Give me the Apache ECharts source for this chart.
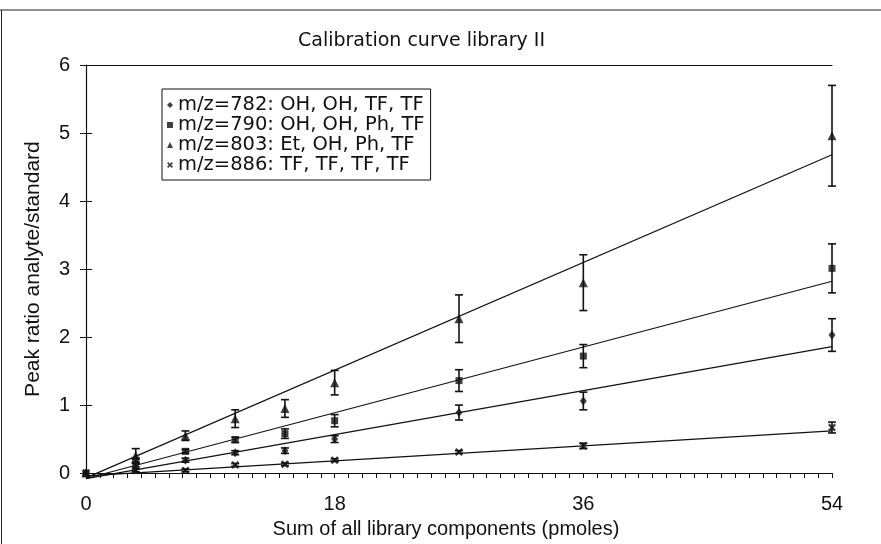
<!DOCTYPE html>
<html>
<head>
<meta charset="utf-8">
<script src="https://cdn.jsdelivr.net/npm/echarts@6/dist/echarts.min.js"></script>
<style>html,body{margin:0;padding:0;background:#fff}#c{width:881px;height:544px}</style>
</head>
<body>
<div id="c"></div>
<script>
const xValues = [0, 3.6, 7.2, 10.8, 14.4, 18, 27, 36, 54];
const mz782 = [0, 0.12, 0.19, 0.30, 0.33, 0.50, 0.89, 1.06, 2.03];
const mz782Err = [0, 0.03, 0.03, 0.03, 0.04, 0.05, 0.11, 0.13, 0.24];
const mz790 = [0, 0.18, 0.32, 0.49, 0.58, 0.77, 1.36, 1.72, 3.01];
const mz790Err = [0, 0.04, 0.03, 0.04, 0.07, 0.09, 0.16, 0.17, 0.36];
const mz803 = [0, 0.26, 0.55, 0.80, 0.95, 1.33, 2.27, 2.80, 4.96];
const mz803Err = [0, 0.10, 0.07, 0.13, 0.13, 0.18, 0.35, 0.41, 0.74];
const mz886 = [0, 0.04, 0.04, 0.12, 0.13, 0.19, 0.31, 0.40, 0.67];
const mz886Err = [0, 0.02, 0.02, 0.02, 0.02, 0.02, 0.02, 0.04, 0.08];
const fitX = [0, 54];
const fit782 = [-0.08, 1.86];
const fit790 = [-0.08, 2.82];
const fit803 = [-0.07, 4.68];
const fit886 = [-0.04, 0.62];
const names = ['m/z=782: OH, OH, TF, TF', 'm/z=790: OH, OH, Ph, TF', 'm/z=803: Et, OH, Ph, TF', 'm/z=886: TF, TF, TF, TF'];
const xTicks = [0, 18, 36, 54];
const yTicks = [0, 1, 2, 3, 4, 5, 6];

const FONT = '"Liberation Sans", Arial, Helvetica, sans-serif';
const WIDE = '"DejaVu Sans", Verdana, sans-serif';
const crossPath = 'path://M0,2 L2,0 L5,3 L8,0 L10,2 L7,5 L10,8 L8,10 L5,7 L2,10 L0,8 L3,5 Z';
const symbols = ['diamond', 'rect', 'triangle', crossPath];
const sizes = [[7, 9], 7, 9, 8];
const vals = [mz782, mz790, mz803, mz886];
const errs = [mz782Err, mz790Err, mz803Err, mz886Err];
const fits = [fit782, fit790, fit803, fit886];

const series = [];
vals.forEach((v, k) => {
  series.push({
    type: 'line', data: fitX.map((x, i) => [x, fits[k][i]]), showSymbol: false, clip: false,
    lineStyle: {color: '#111', width: 1.2}, silent: true, z: 2, legendHoverLink: false
  });
  series.push({
    type: 'custom', clip: false, z: 3,
    data: xValues.map((x, i) => [x, v[i] - errs[k][i], v[i] + errs[k][i]]).filter((d, i) => errs[k][i] > 0),
    renderItem: function (params, api) {
      const lo = api.coord([api.value(0), api.value(1)]);
      const hi = api.coord([api.value(0), api.value(2)]);
      const w = 4;
      const st = {stroke: '#111', lineWidth: 1.6};
      return {type: 'group', children: [
        {type: 'line', shape: {x1: lo[0], y1: lo[1], x2: hi[0], y2: hi[1]}, style: st},
        {type: 'line', shape: {x1: lo[0] - w, y1: lo[1], x2: lo[0] + w, y2: lo[1]}, style: st},
        {type: 'line', shape: {x1: hi[0] - w, y1: hi[1], x2: hi[0] + w, y2: hi[1]}, style: st}
      ]};
    }
  });
  series.push({
    name: names[k], type: 'scatter', symbol: symbols[k], symbolSize: sizes[k], z: 4, clip: false,
    itemStyle: {color: '#111'},
    data: xValues.map((x, i) => [x, v[i]])
  });
});

const chart = echarts.init(document.getElementById('c'), null, {renderer: 'canvas'});
chart.setOption({
  animation: false,
  backgroundColor: '#fff',
  textStyle: {fontFamily: FONT, color: '#111'},
  title: {
    text: 'Calibration curve library II', left: 298, top: 32, padding: 0,
    textStyle: {fontFamily: WIDE, fontSize: 19, fontWeight: 'normal', color: '#111'}
  },
  graphic: [
    {type: 'line', shape: {x1: 0, y1: 10, x2: 881, y2: 10}, style: {stroke: '#222', lineWidth: 1}},
    {type: 'line', shape: {x1: 1.5, y1: 10, x2: 1.5, y2: 544}, style: {stroke: '#222', lineWidth: 1}}
  ],
  legend: {
    data: names, orient: 'vertical', left: 162, top: 89,
    backgroundColor: '#fff', borderColor: '#111', borderWidth: 1,
    padding: [6, 6, 5, 5], itemGap: 0, itemWidth: 6, itemHeight: 6,
    textStyle: {fontFamily: WIDE, fontSize: 19.5, color: '#111', lineHeight: 18.3, padding: [0, 0, 0, 0]},
    selectedMode: false
  },
  grid: {left: 86, right: 49, top: 65, bottom: 66, containLabel: false},
  xAxis: [{
    type: 'value', min: 0, max: 54, interval: 18,
    name: 'Sum of all library components (pmoles)', nameLocation: 'middle', nameGap: 44,
    nameTextStyle: {fontFamily: FONT, fontSize: 20, color: '#111', padding: [0, 26, 0, 0]},
    axisLine: {lineStyle: {color: '#111', width: 1.2}},
    axisTick: {show: true, length: 5, lineStyle: {color: '#111'}},
    minorTick: {show: true, splitNumber: 18, length: 5, lineStyle: {color: '#111'}},
    axisLabel: {fontFamily: FONT, fontSize: 20, color: '#111', margin: 21,
      formatter: v => xTicks.indexOf(v) >= 0 ? String(v) : ''},
    splitLine: {show: false}
  }, {
    type: 'value', min: 0, max: 54, position: 'top',
    axisLine: {show: true, onZero: false, lineStyle: {color: '#111', width: 1.2}},
    axisTick: {show: false}, axisLabel: {show: false}, splitLine: {show: false}
  }],
  yAxis: [{
    type: 'value', min: 0, max: 6, interval: 1,
    name: 'Peak ratio analyte/standard', nameLocation: 'middle', nameGap: 42,
    nameTextStyle: {fontFamily: FONT, fontSize: 21, color: '#111'},
    axisLine: {show: true, lineStyle: {color: '#111', width: 1.2}},
    axisTick: {show: true, length: 6, lineStyle: {color: '#111'}},
    axisLabel: {fontFamily: FONT, fontSize: 20, color: '#111', margin: 16,
      formatter: v => yTicks.indexOf(v) >= 0 ? String(v) : ''},
    splitLine: {show: false}
  }, {
    type: 'value', min: 0, max: 6, interval: 1, position: 'left', offset: 0,
    axisLine: {show: false},
    axisTick: {show: true, inside: true, length: 6, lineStyle: {color: '#111'}},
    axisLabel: {show: false}, splitLine: {show: false}
  }],
  series: series
});
</script>
</body>
</html>
